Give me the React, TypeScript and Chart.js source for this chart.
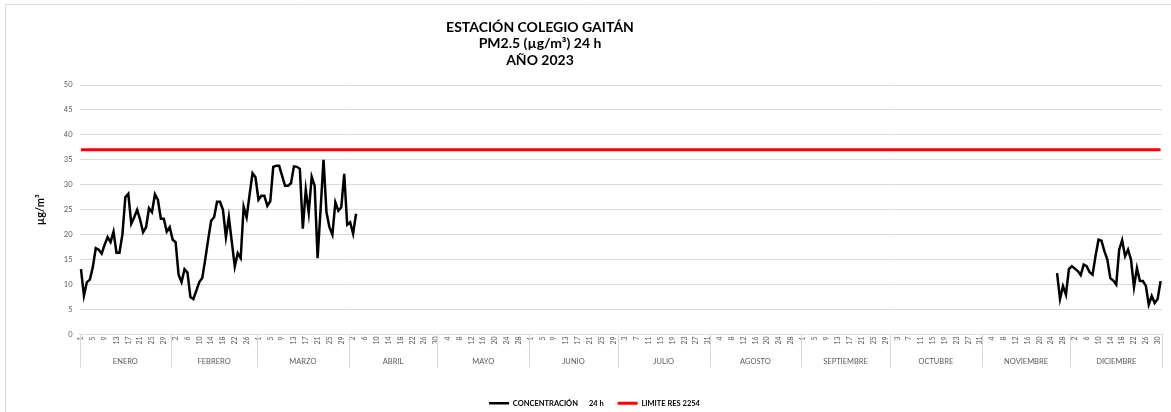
import React, { useEffect, useRef } from "react";
import { Chart, registerables } from "chart.js";

Chart.register(...registerables);

const TITLE_LINES = ["ESTACIÓN COLEGIO GAITÁN", "PM2.5 (µg/m³) 24 h", "AÑO 2023"];
const MONTHS = ["ENERO", "FEBRERO", "MARZO", "ABRIL", "MAYO", "JUNIO", "JULIO", "AGOSTO", "SEPTIEMBRE", "OCTUBRE", "NOVIEMBRE", "DICIEMBRE"];
const MONTH_DAYS = [31, 29, 31, 30, 31, 30, 31, 31, 30, 31, 30, 31];
const Y_TICKS = { min: 0, max: 50, step: 5 };
const LIMIT_VALUE = 37;
const SERIES_NAME = "CONCENTRACIÓN      24 h";
const LIMIT_NAME = "LIMITE RES 2254";

// Jan 1 -> Apr 3
const START_VALUES = [
  13.1, 7.8, 10.5, 11, 13.5, 17.3, 17, 16.2, 18, 19.5,
  18.5, 20.6, 16.4, 16.4, 20, 27.5, 28.2, 22.2, 23.5, 25,
  23, 20.5, 21.5, 25.3, 24.5, 28.1, 27, 23.2, 23.2, 20.6,
  21.5, 19, 18.5, 12, 10.5, 13.1, 12.4, 7.5, 7.1, 8.8,
  10.5, 11.3, 15, 19, 22.8, 23.5, 26.6, 26.6, 25, 19.5,
  23.5, 18.5, 13.6, 16.3, 15.3, 25.6, 23.5, 28, 32.3, 31.5,
  27, 27.8, 27.8, 25.8, 26.7, 33.6, 33.8, 33.8, 31.8, 29.8,
  29.8, 30.3, 33.7, 33.6, 33.2, 21.2, 29, 24.4, 31.6, 29.8,
  15.3, 25, 35, 24.5, 21.5, 20, 26.5, 24.8, 25.5, 32.2,
  22, 22.5, 20.2, 24.2,
];
// Nov 26 -> Dec 31
const END_VALUES = [
  12.3, 7.1, 9.7, 8, 13.1, 13.7, 13.2, 12.7, 11.9, 14,
  13.7, 12.5, 12, 15.7, 19, 18.8, 16.7, 15, 11.3, 10.8,
  10, 17, 18.9, 15.7, 17, 15, 9.5, 13.3, 10.7, 10.7,
  9.8, 6, 7.7, 6.3, 7.1, 10.7,
];

const DAY_LABELS: string[] = [];
MONTH_DAYS.forEach((n) => {
  for (let d = 1; d <= n; d++) DAY_LABELS.push(String(d));
});
const TOTAL = DAY_LABELS.length;
const SERIES: (number | null)[] = DAY_LABELS.map((_, i) => {
  if (i < START_VALUES.length) return START_VALUES[i];
  const endStart = TOTAL - END_VALUES.length;
  if (i >= endStart) return END_VALUES[i - endStart];
  return null;
});
const LIMIT_SERIES = DAY_LABELS.map(() => LIMIT_VALUE);

const FONT = "Lato";
const PAD_LEFT = 22;

const decorPlugin = {
  id: "decor",
  afterDraw(chart: any) {
    const ctx = chart.ctx as CanvasRenderingContext2D;
    const xs = chart.scales.x;
    const area = chart.chartArea;
    ctx.save();
    // outer frame
    ctx.strokeStyle = "#d9d9d9";
    ctx.lineWidth = 1;
    ctx.beginPath();
    ctx.moveTo(5.5, 412);
    ctx.lineTo(5.5, 4.5);
    ctx.lineTo(1171, 4.5);
    ctx.stroke();
    // title
    ctx.fillStyle = "#000";
    ctx.font = `bold 14px ${FONT}`;
    ctx.textAlign = "center";
    ctx.textBaseline = "middle";
    TITLE_LINES.forEach((t, i) => ctx.fillText(t, 540, 27 + i * 16.5));
    // month groups
    const w = (xs.right - xs.left) / TOTAL;
    let cum = 0;
    ctx.strokeStyle = "#d9d9d9";
    ctx.font = `7.5px ${FONT}`;
    ctx.fillStyle = "#595959";
    const drawSep = (x: number) => {
      ctx.beginPath();
      ctx.moveTo(Math.round(x) + 0.5, area.bottom);
      ctx.lineTo(Math.round(x) + 0.5, area.bottom + 33);
      ctx.stroke();
    };
    MONTHS.forEach((m, i) => {
      const x0 = xs.left + cum * w;
      drawSep(x0);
      const x1 = x0 + MONTH_DAYS[i] * w;
      ctx.fillText(m, (x0 + x1) / 2, area.bottom + 27.5);
      cum += MONTH_DAYS[i];
    });
    drawSep(xs.right);
    ctx.restore();
  },
};

export default function App() {
  const ref = useRef<HTMLCanvasElement>(null);
  useEffect(() => {
    if (!ref.current) return;
    const chart = new Chart(ref.current, {
      type: "line",
      data: {
        labels: DAY_LABELS,
        datasets: [
          {
            label: SERIES_NAME,
            data: SERIES,
            borderColor: "#000000",
            backgroundColor: "#000000",
            borderWidth: 2.5,
            pointRadius: 0,
            tension: 0,
            spanGaps: false,
          },
          {
            label: LIMIT_NAME,
            data: LIMIT_SERIES,
            borderColor: "#ff0000",
            backgroundColor: "#ff0000",
            borderWidth: 3,
            pointRadius: 0,
            tension: 0,
          },
        ],
      },
      options: {
        animation: false,
        responsive: false,
        maintainAspectRatio: false,
        layout: { padding: { top: 85, left: PAD_LEFT, right: 4, bottom: 0 } },
        plugins: {
          title: { display: false },
          tooltip: { enabled: false },
          legend: {
            position: "bottom",
            labels: {
              usePointStyle: true,
              pointStyle: "line",
              pointStyleWidth: 20,
              boxHeight: 7.5,
              padding: 14,
              color: "#000",
              font: { family: FONT, size: 7.5, weight: "bold" },
            },
          },
        },
        scales: {
          x: {
            type: "category",
            offset: true,
            grid: { display: false, drawTicks: false },
            border: { display: true, color: "#d9d9d9" },
            ticks: {
              autoSkip: false,
              maxRotation: 90,
              minRotation: 90,
              padding: 2,
              color: "#595959",
              font: { family: FONT, size: 7 },
              callback: (_v: any, i: number) => (i % 4 === 0 ? DAY_LABELS[i] : ""),
            },
            afterFit: (s: any) => {
              s.height = 51;
            },
          },
          y: {
            min: Y_TICKS.min,
            max: Y_TICKS.max,
            ticks: {
              stepSize: Y_TICKS.step,
              padding: 7,
              color: "#595959",
              font: { family: FONT, size: 7.5 },
            },
            grid: { color: "#d9d9d9", drawTicks: false },
            border: { display: false },
            title: {
              display: true,
              text: "µg/m³",
              color: "#000",
              font: { family: FONT, size: 11, weight: "bold" },
              padding: { top: 33.4 - PAD_LEFT, bottom: 0 },
            },
            afterFit: (s: any) => {
              s.width = 79.5 - PAD_LEFT;
            },
          },
        },
      },
      plugins: [decorPlugin],
    });
    return () => chart.destroy();
  }, []);
  return (
    <div style={{ position: "absolute", left: 0, top: 0, width: 1171, height: 412, overflow: "hidden", background: "#fff" }}>
      <canvas ref={ref} width={1171} height={417} style={{ display: "block" }} />
    </div>
  );
}
